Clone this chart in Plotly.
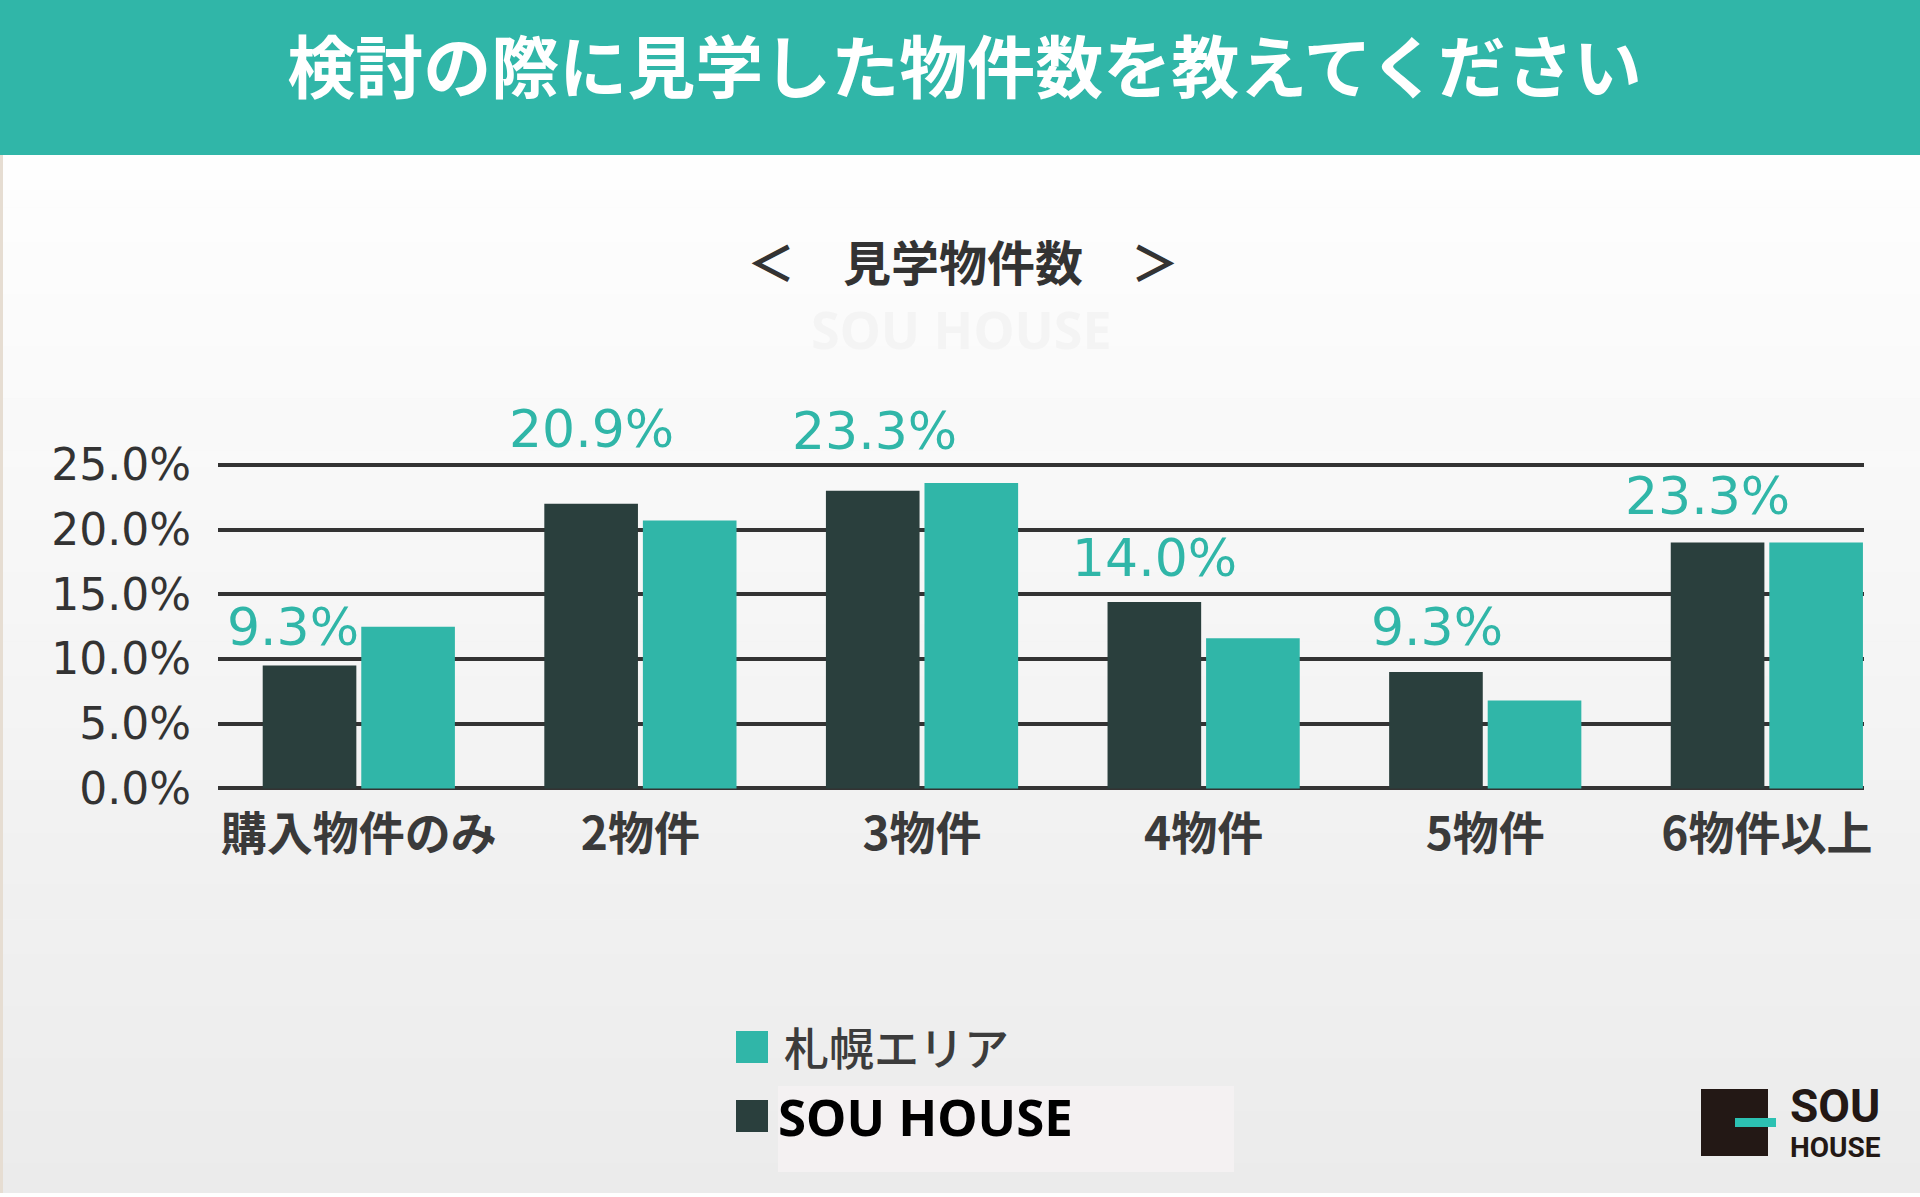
import plotly.graph_objects as go

# ---------------- data ----------------
categories = ["購入物件のみ", "2物件", "3物件", "4物件", "5物件", "6物件以上"]
sou_house = [9.5, 22.0, 23.0, 14.4, 9.0, 19.0]
sapporo = [12.5, 20.7, 23.6, 11.6, 6.8, 19.0]
label_texts = ["9.3%", "20.9%", "23.3%", "14.0%", "9.3%", "23.3%"]
y_ticks = [0, 5, 10, 15, 20, 25]

series_names = ["札幌エリア", "SOU HOUSE"]
title_text = "検討の際に見学した物件数を教えてください"
subtitle_text = "＜　見学物件数　＞"

# ---------------- layout constants ----------------
W, H = 1920, 1197
L, R, T, B = 218, 1864, 451.9, 790.9  # plot area in pixels
TEAL = "#30b6a8"
DARK = "#2a3f3d"
X_RANGE = [-0.5, 5.345]
Y_RANGE = [-0.2, 26]

# label placement (category offset, y centre in data units)
label_dx = [-0.234, -0.174, -0.17, -0.174, -0.17, -0.211]
label_y = [12.5, 27.8, 27.6, 17.8, 12.5, 22.6]


def px(x):
    return (x - L) / (R - L)


def py(y):
    return (B - y) / (B - T)


def dx_paper(v):
    return (v - X_RANGE[0]) / (X_RANGE[1] - X_RANGE[0])


def dy_paper(v):
    return (v - Y_RANGE[0]) / (Y_RANGE[1] - Y_RANGE[0])


fig = go.Figure()
fig.add_trace(go.Bar(x=categories, y=sou_house, name=series_names[1],
                     marker=dict(color=DARK, line=dict(width=0)), showlegend=False))
fig.add_trace(go.Bar(x=categories, y=sapporo, name=series_names[0],
                     marker=dict(color=TEAL, line=dict(width=0)), showlegend=False))

shapes = []
# background gradient bands
top_c = (254, 254, 254)
bot_c = (235, 235, 235)
n = 60
y_start, y_end = 155, H
for i in range(n):
    y0 = y_start + (y_end - y_start) * i / n
    y1 = y_start + (y_end - y_start) * (i + 1) / n + 0.5
    t = i / (n - 1)
    c = tuple(round(top_c[k] + (bot_c[k] - top_c[k]) * t) for k in range(3))
    shapes.append(dict(type="rect", xref="paper", yref="paper",
                       x0=px(0), x1=px(W), y0=py(y1), y1=py(y0),
                       fillcolor="rgb(%d,%d,%d)" % c, line=dict(width=0), layer="below"))
# title bar
shapes.append(dict(type="rect", xref="paper", yref="paper",
                   x0=px(0), x1=px(W), y0=py(155), y1=py(0),
                   fillcolor=TEAL, line=dict(width=0), layer="below"))
# thin left border
shapes.append(dict(type="rect", xref="paper", yref="paper",
                   x0=px(0), x1=px(3), y0=py(H), y1=py(155),
                   fillcolor="#e6ddd2", line=dict(width=0), layer="below"))
# bottom white strip
shapes.append(dict(type="rect", xref="paper", yref="paper",
                   x0=px(0), x1=px(W), y0=py(H), y1=py(1193),
                   fillcolor="#ffffff", line=dict(width=0), layer="below"))
# legend markers
shapes.append(dict(type="rect", xref="paper", yref="paper",
                   x0=px(736), x1=px(768), y0=py(1063), y1=py(1031),
                   fillcolor=TEAL, line=dict(width=0)))
shapes.append(dict(type="rect", xref="paper", yref="paper",
                   x0=px(778), x1=px(1234), y0=py(1172), y1=py(1086),
                   fillcolor="#f4f1f2", line=dict(width=0)))
shapes.append(dict(type="rect", xref="paper", yref="paper",
                   x0=px(736), x1=px(768), y0=py(1132), y1=py(1100),
                   fillcolor=DARK, line=dict(width=0)))
# logo
shapes.append(dict(type="rect", xref="paper", yref="paper",
                   x0=px(1701), x1=px(1768), y0=py(1156), y1=py(1089),
                   fillcolor="#231815", line=dict(width=0)))
shapes.append(dict(type="rect", xref="paper", yref="paper",
                   x0=px(1735), x1=px(1776), y0=py(1127), y1=py(1118),
                   fillcolor="#2cc1b2", line=dict(width=0)))

annotations = []
# subtitle
annotations.append(dict(text=subtitle_text, xref="paper", yref="paper",
                        x=px(963), y=py(260), xanchor="center", yanchor="middle",
                        showarrow=False,
                        font=dict(family="Noto Sans CJK JP", size=48, color="#333333", weight="bold")))
# faint watermark
annotations.append(dict(text="SOU HOUSE", xref="paper", yref="paper",
                        x=px(961), y=py(328), xanchor="center", yanchor="middle",
                        showarrow=False,
                        font=dict(family="Noto Sans", size=52, color="#f4f4f4", weight="bold")))
# value labels
for i, txt in enumerate(label_texts):
    annotations.append(dict(text=txt, xref="paper", yref="paper",
                            x=dx_paper(i + label_dx[i]), y=dy_paper(label_y[i]),
                            xanchor="center", yanchor="middle", showarrow=False,
                            font=dict(family="DejaVu Sans", size=52, color=TEAL)))
# legend texts
annotations.append(dict(text=series_names[0], xref="paper", yref="paper",
                        x=px(782), y=py(1046), xanchor="left", yanchor="middle",
                        showarrow=False,
                        font=dict(family="Noto Sans CJK JP", size=45, color="#3c3c3c", weight=500)))
annotations.append(dict(text=series_names[1], xref="paper", yref="paper",
                        x=px(776), y=py(1116), xanchor="left", yanchor="middle",
                        showarrow=False,
                        font=dict(family="Noto Sans", size=51, color="#000000", weight="bold")))
# logo texts
annotations.append(dict(text="SOU", xref="paper", yref="paper",
                        x=px(1835), y=py(1106), xanchor="center", yanchor="middle",
                        showarrow=False,
                        font=dict(family="Roboto", size=46, color="#231815", weight="bold")))
annotations.append(dict(text="HOUSE", xref="paper", yref="paper",
                        x=px(1835), y=py(1147), xanchor="center", yanchor="middle",
                        showarrow=False,
                        font=dict(family="Roboto", size=28, color="#231815", weight="bold")))

fig.update_layout(
    width=W, height=H,
    margin=dict(l=L, r=W - R, t=T, b=H - B, pad=0),
    paper_bgcolor="#f4f4f4",
    plot_bgcolor="rgba(0,0,0,0)",
    barmode="group", bargap=0.3, bargroupgap=0.05,
    title=dict(text=title_text, x=964.5 / W, xanchor="center",
               y=1 - 69 / H, yanchor="middle",
               font=dict(family="Noto Sans CJK JP", size=68, color="#ffffff", weight="bold")),
    shapes=shapes,
    annotations=annotations,
    showlegend=False,
)
fig.update_xaxes(type="category", range=X_RANGE, showgrid=False, zeroline=False,
                 showline=False, ticks="", ticklabelstandoff=12,
                 tickfont=dict(family="Noto Sans CJK JP", size=46, color="#3a3a3a", weight="bold"))
fig.update_yaxes(range=Y_RANGE, tickmode="array", tickvals=y_ticks,
                 ticktext=["%.1f%%" % v for v in y_ticks],
                 showgrid=True, gridcolor="#333333", gridwidth=3.5,
                 zeroline=True, zerolinecolor="#333333", zerolinewidth=3.5,
                 showline=False, ticks="", ticklabelstandoff=26,
                 tickfont=dict(family="DejaVu Sans", size=44, color="#333333"))

fig.write_html("out.html")
